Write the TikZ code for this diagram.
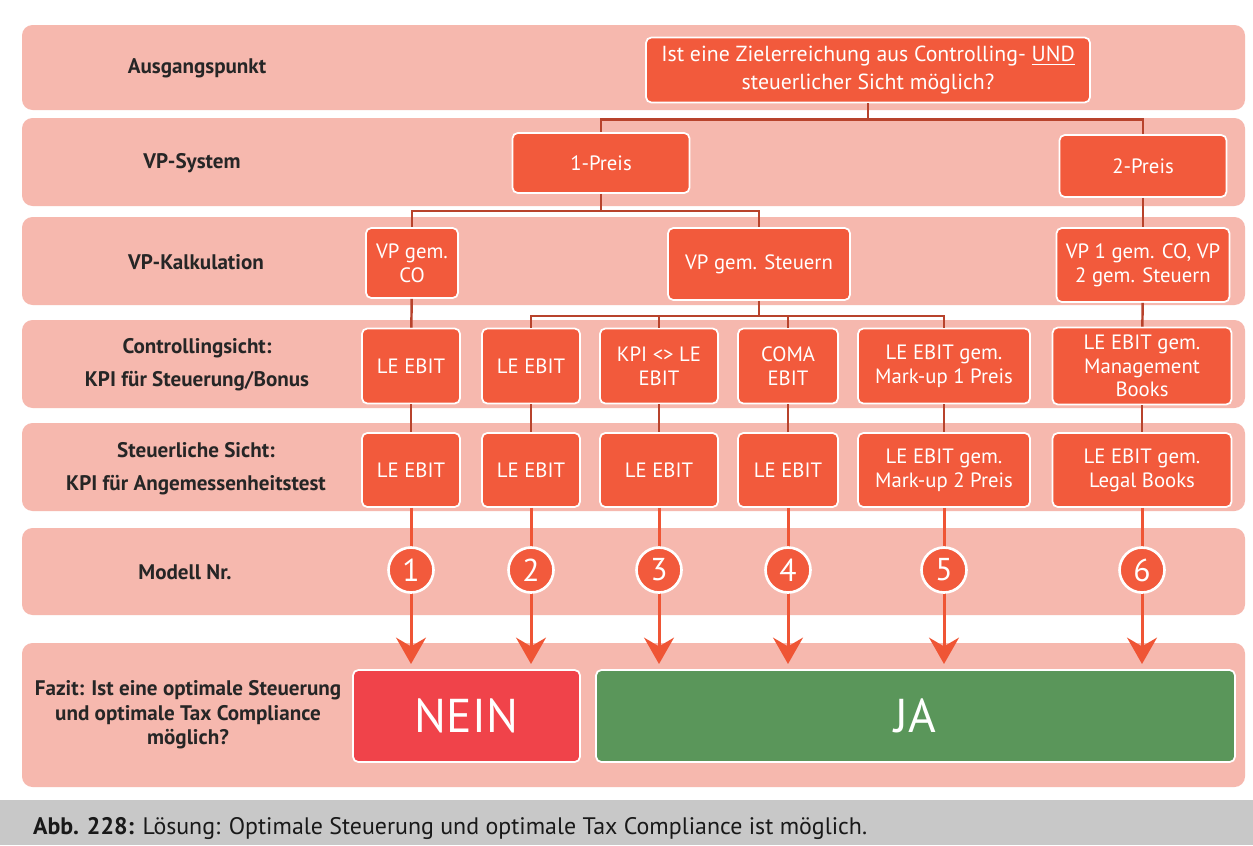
\documentclass[tikz,border=0pt]{standalone}
\usepackage{fontspec}
\setmainfont{PT Sans}
\usetikzlibrary{arrows.meta}
\definecolor{bandc}{HTML}{F6B8AE}
\definecolor{boxc}{HTML}{F25A3C}
\definecolor{linec}{HTML}{B8432C}
\definecolor{arrc}{HTML}{EF5535}
\definecolor{neinc}{HTML}{F0434A}
\definecolor{jac}{HTML}{5A965A}
\definecolor{capc}{HTML}{C8C8C8}
\tikzset{
  band/.style={fill=bandc, draw=none, rounded corners=6pt},
  rowlabel/.style={font=\bfseries\fontsize{12}{19}\selectfont, align=center, text=black!85},
  box/.style={rectangle, rounded corners=3pt, fill=boxc, draw=white, line width=1pt,
    text=white, align=center, inner sep=1pt, font=\fontsize{11.8}{13.5}\selectfont},
  tree/.style={draw=linec, line width=1.4pt},
  flow/.style={draw=arrc, line width=1.7pt, -{Stealth[length=15pt,width=17pt,inset=5pt]}},
  num/.style={circle, fill=boxc, draw=white, line width=1.5pt, minimum size=0.9cm,
    inner sep=0pt, text=white, font=\fontsize{18}{18}\selectfont},
  verdict/.style={rectangle, rounded corners=3pt, draw=white, line width=1pt,
    text=white, font=\fontsize{27}{27}\selectfont, minimum height=1.84cm}
}
\begin{document}
\begin{tikzpicture}[x=0.02cm, y=-0.02cm]
\useasboundingbox (0,0) rectangle (1253,845);
\fill[white] (0,0) rectangle (1253,845);

% horizontal bands
\path[band] (22,25) rectangle (1245,110);
\path[band] (22,118) rectangle (1245,206);
\path[band] (22,217) rectangle (1245,305);
\path[band] (22,320) rectangle (1245,408);
\path[band] (22,423) rectangle (1245,511);
\path[band] (22,528) rectangle (1245,615);
\path[band] (22,643) rectangle (1245,787);

% caption strip
\fill[capc] (0,800) rectangle (1253,845);
\node[anchor=west, font=\fontsize{13.6}{15}\selectfont, text=black!90] (cap) at (27,828)
  {\textbf{Abb. 228:} Lösung: Optimale Steuerung und optimale Tax Compliance ist möglich.};

% row labels
\node[rowlabel] (l1) at (197,68) {Ausgangspunkt};
\node[rowlabel] (l2) at (192,163) {VP-System};
\node[rowlabel] (l3) at (196,262) {VP-Kalkulation};
\node[rowlabel] (l4) at (197,365) {Controllingsicht:\\KPI für Steuerung/Bonus};
\node[rowlabel] (l5) at (196,469) {Steuerliche Sicht:\\KPI für Angemessenheitstest};
\node[rowlabel] (l6) at (185,572) {Modell Nr.};
\node[rowlabel, font=\bfseries\fontsize{12}{14}\selectfont] (l7) at (188,715)
  {Fazit: Ist eine optimale Steuerung\\und optimale Tax Compliance\\möglich?};

% tree boxes
\node[box, minimum width=8.88cm, minimum height=1.3cm, font=\fontsize{12.4}{15.5}\selectfont] (top) at (868,70)
  {Ist eine Zielerreichung aus Controlling- \underline{UND}\\steuerlicher Sicht möglich?};
\node[box, minimum width=3.54cm, minimum height=1.2cm] (p1) at (601,163) {1-Preis};
\node[box, minimum width=3.34cm, minimum height=1.24cm] (p2) at (1143,166) {2-Preis};
\node[box, minimum width=1.84cm, minimum height=1.4cm] (co) at (412,263) {VP gem.\\CO};
\node[box, minimum width=3.64cm, minimum height=1.44cm] (st) at (759,264) {VP gem. Steuern};
\node[box, minimum width=3.46cm, minimum height=1.48cm] (vp) at (1143,265) {VP 1 gem. CO, VP\\2 gem. Steuern};

% controlling view
\node[box, minimum width=1.96cm, minimum height=1.5cm] (c1) at (411,366) {LE EBIT};
\node[box, minimum width=1.96cm, minimum height=1.5cm] (c2) at (531,366) {LE EBIT};
\node[box, minimum width=2.36cm, minimum height=1.5cm] (c3) at (659,366) {KPI <> LE\\EBIT};
\node[box, minimum width=2.0cm, minimum height=1.5cm] (c4) at (788,366) {COMA\\EBIT};
\node[box, minimum width=3.44cm, minimum height=1.5cm] (c5) at (944,366) {LE EBIT gem.\\Mark-up 1 Preis};
\node[box, minimum width=3.58cm, minimum height=1.54cm] (c6) at (1142,366) {LE EBIT gem.\\Management\\Books};

% tax view
\node[box, minimum width=1.96cm, minimum height=1.48cm] (s1) at (411,470) {LE EBIT};
\node[box, minimum width=1.96cm, minimum height=1.48cm] (s2) at (531,470) {LE EBIT};
\node[box, minimum width=2.36cm, minimum height=1.48cm] (s3) at (659,470) {LE EBIT};
\node[box, minimum width=2.0cm, minimum height=1.48cm] (s4) at (788,470) {LE EBIT};
\node[box, minimum width=3.44cm, minimum height=1.48cm] (s5) at (944,470) {LE EBIT gem.\\Mark-up 2 Preis};
\node[box, minimum width=3.58cm, minimum height=1.48cm] (s6) at (1142,470) {LE EBIT gem.\\Legal Books};

% verdicts
\node[verdict, fill=neinc, minimum width=4.54cm] (nein) at (466.5,716) {NEIN};
\node[verdict, fill=jac, minimum width=12.78cm] (ja) at (915.5,716) {JA};

% tree connectors
\draw[tree] (top.south) -- ++(0,16) coordinate (tj) -| (p1.north);
\draw[tree] (tj) -| (p2.north);
\draw[tree] (p1.south) -- ++(0,17) coordinate (pj) -| (co.north);
\draw[tree] (pj) -| (st.north);
\draw[tree] (p2) -- (vp);
\draw[tree] (st.south) -- ++(0,15) coordinate (sj) -| (c2.north);
\draw[tree] (sj) -| (c3.north);
\draw[tree] (sj) -| (c4.north);
\draw[tree] (sj) -| (c5.north);
\draw[tree] (co) -- (c1);
\draw[tree] (vp) -- (c6);
\foreach \i in {1,...,6} { \draw[tree] (c\i) -- (s\i); }

% model numbers and arrows
\foreach \i/\x in {1/411,2/531,3/659,4/788,5/944,6/1142} {
  \coordinate (e\i) at (\x,664);
  \draw[flow] (s\i.south) -- (e\i);
  \node[num] (n\i) at (\x,570) {\i};
}
\end{tikzpicture}
\end{document}
